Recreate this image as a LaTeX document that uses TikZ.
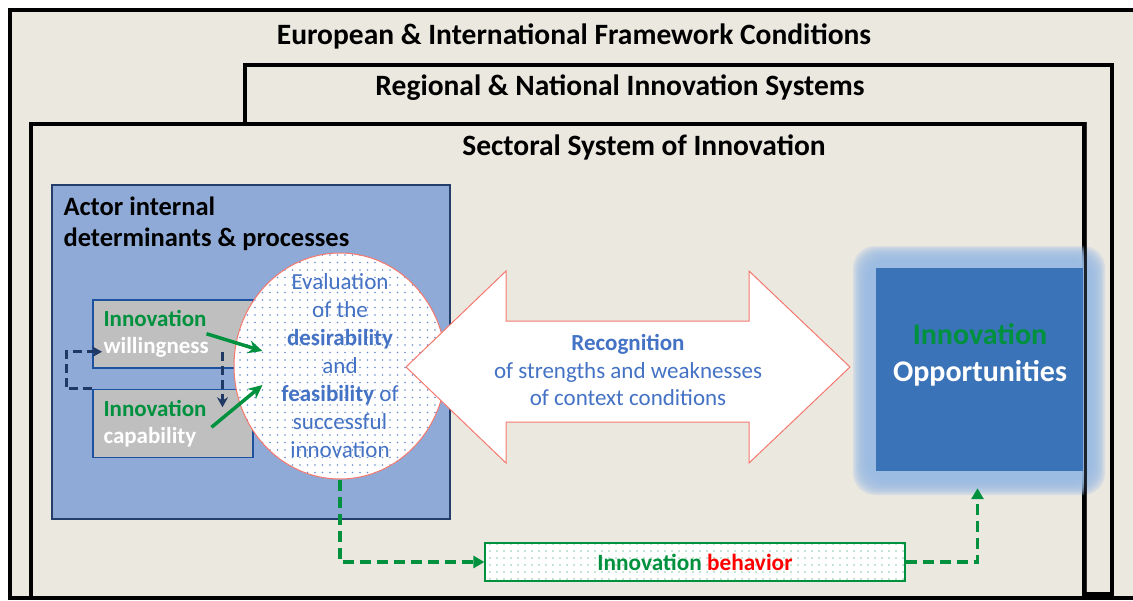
\documentclass[tikz,border=0pt]{standalone}
\usepackage{fontspec}
\setmainfont{Carlito}
\usepackage{tikz}
\usetikzlibrary{positioning,shapes.geometric,patterns.meta,arrows.meta}
\usepackage{xcolor}
\definecolor{paper}{RGB}{235,232,224}
\definecolor{actorfill}{RGB}{143,170,215}
\definecolor{actorline}{RGB}{36,62,105}
\definecolor{boxgray}{RGB}{191,191,191}
\definecolor{boxline}{RGB}{28,82,160}
\definecolor{textblue}{RGB}{68,114,196}
\definecolor{innogreen}{RGB}{0,145,62}
\definecolor{navy}{RGB}{31,56,100}
\definecolor{oppblue}{RGB}{58,115,183}
\definecolor{glowblue}{RGB}{155,188,228}
\definecolor{arrowred}{RGB}{245,120,110}

\begin{document}
\begin{tikzpicture}[x=1pt,y=-1pt, node distance=1cm, auto,
  frame/.style={draw=black, line width=3.5pt, fill=paper, inner sep=0pt, anchor=north west},
  frametitle/.style={font=\fontsize{29.5}{34}\bfseries\selectfont},
  subbox/.style={draw=boxline, line width=1.5pt, fill=boxgray, minimum width=160, minimum height=68, inner sep=0pt},
  boxtext/.style={font=\fontsize{23}{27}\bfseries\selectfont, align=left},
  greenarrow/.style={innogreen, line width=3.5pt, -{Stealth[length=14pt,width=13pt]}},
  navydash/.style={navy, line width=3pt, dash pattern=on 9pt off 5pt, -{Stealth[length=10pt,width=11pt]}},
  greendash/.style={innogreen, line width=3.2pt, dash pattern=on 11pt off 6pt, -{Triangle[length=11pt,width=12pt]}}]
\useasboundingbox (0,0) rectangle (1133,600);
\fill[white] (0,0) rectangle (1133,600);

% nested frames (the outer one runs past the right edge)
\fill[paper] (10,10) rectangle (1133,598);
\draw[black, line width=3.5pt] (1140,10) -- (10,10) -- (10,598) -- (1140,598);
\node[frametitle] (eurot) at (574,36) {European \& International Framework Conditions};
\node[frame, minimum width=867, minimum height=529] (regio) at (243,63) {};
\node[frametitle] (regiot) at (620,88) {Regional \& National Innovation Systems};
\node[frame, minimum width=1053, minimum height=474] (sect) at (29,122) {};
\node[frametitle] (sectt) at (644,147) {Sectoral System of Innovation};

% actor internal
\node[draw=actorline, line width=1.5pt, fill=actorfill, minimum width=398, minimum height=334, anchor=north west] (actor) at (51,184) {};
\node[align=left, anchor=north west, font=\fontsize{26.5}{31}\bfseries\selectfont] (actort) at (60,193) {Actor internal\\determinants \& processes};

\node[subbox, anchor=north west] (will) at (92,299) {};
\node[boxtext, anchor=west] at ([xshift=8]will.west) {\color{innogreen}Innovation\\\color{white}willingness};
\node[subbox, below=20pt of will] (cap) {};
\node[boxtext, anchor=west] at ([xshift=8]cap.west) {\color{innogreen}Innovation\\\color{white}capability};

\node[ellipse, draw=arrowred, line width=1pt, minimum width=212, minimum height=226,
  preaction={fill=white}, pattern={Dots[distance=7.5pt, radius=0.9pt]}, pattern color=textblue!80] (eval) at (340,366) {};
\node[align=center, text=textblue, font=\fontsize{23}{28}\selectfont] (evalt) at (eval.center) {Evaluation\\of the\\\textbf{desirability}\\and\\\textbf{feasibility} of\\successful\\innovation};

\draw[greenarrow] ([xshift=-47]will.east) -- ([shift={(29,-15)}]eval.west);
\draw[greenarrow] ([shift={(-42,4)}]cap.east) -- ([shift={(29,19)}]eval.west);
\draw[navydash] (cap.north west) -- ++(-26,0) |- ([shift={(10,18)}]will.west);
\draw[navydash] ([shift={(-31,18)}]will.east) -- ([shift={(-31,-16)}]cap.east);

% recognition arrow
\draw[arrowred, fill=white, line width=1pt] (406,367) -- (506,271) -- (506,321) -- (749,321) -- (749,271)
  -- (850,367) -- (749,463) -- (749,422) -- (506,422) -- (506,463) -- cycle;
\node[align=center, text=textblue, font=\fontsize{23}{27.5}\selectfont] (recog) at (628,370) {\textbf{Recognition}\\of strengths and weaknesses\\of context conditions};

% opportunities
\foreach \i in {0,...,9}
  \fill[glowblue, opacity=0.25, rounded corners=22pt] (853+1.6*\i,246+1.6*\i) rectangle (1105-1.6*\i,495-1.6*\i);
\node[fill=oppblue, minimum width=207, minimum height=203, inner sep=0pt] (opp) at (979.5,369.5) {};
\node[align=center, font=\fontsize{30}{37}\bfseries\selectfont] (oppt) at (980,355) {\color{innogreen}Innovation\\\color{white}Opportunities};
\draw[black, line width=3.5pt, opacity=0.8] (sect.north east) -- (sect.south east);

% behavior
\node[draw=innogreen, line width=1.2pt, minimum width=420, minimum height=38, preaction={fill=white},
  pattern={Dots[distance=7pt, radius=0.7pt]}, pattern color=innogreen] (beh) at (695,562) {};
\node[font=\fontsize{23.3}{26}\bfseries\selectfont] (beht) at (beh.center) {\color{innogreen}Innovation \color{red}behavior};
\draw[greendash] (eval.south) |- (beh.west);
\draw[greendash] (beh.east) -| ([shift={(-2,17)}]opp.south);
\end{tikzpicture}
\end{document}
